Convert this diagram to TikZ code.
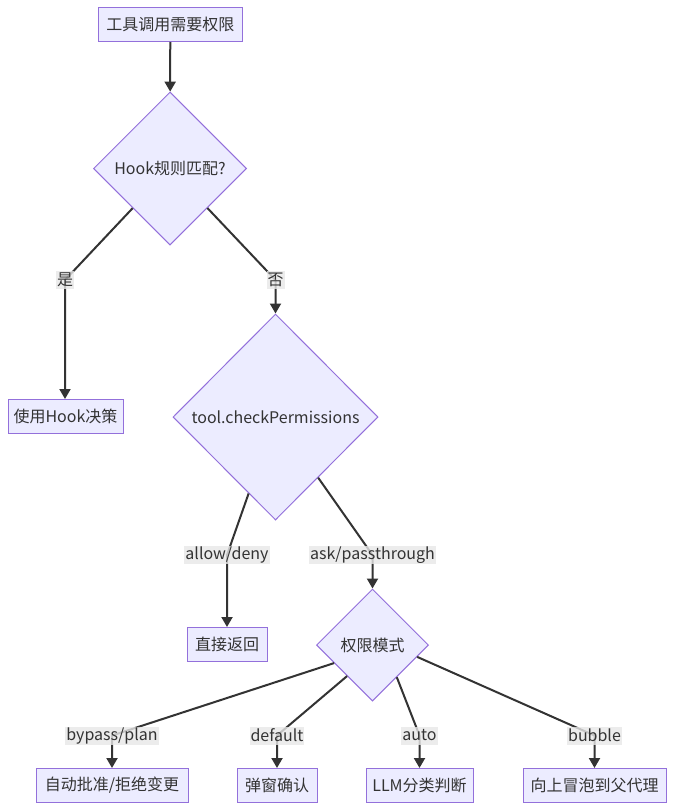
\documentclass[tikz,border=0pt]{standalone}
\usepackage{fontspec}
\setmainfont{Noto Sans CJK SC}
\usetikzlibrary{shapes.geometric,arrows.meta,calc}
\definecolor{nfill}{HTML}{ECECFF}
\definecolor{nstroke}{HTML}{9370DB}
\definecolor{ecol}{HTML}{333333}
\definecolor{lbg}{HTML}{E8E8E8}
\tikzset{
  txt/.style={text=ecol, font=\fontsize{16}{19}\selectfont},
  box/.style={txt, draw=nstroke, fill=nfill, line width=1pt, minimum height=34pt, inner sep=0pt},
  dia/.style={txt, diamond, aspect=1, draw=nstroke, fill=nfill, line width=1pt, inner sep=0pt},
  edge/.style={draw=ecol, line width=2pt, -{Triangle[length=10pt,width=11pt]}},
  lbl/.style={txt, fill=lbg, fill opacity=0.8, text opacity=1, inner xsep=1pt, inner ysep=0pt, minimum height=18pt}
}
\begin{document}
\begin{tikzpicture}[x=1pt,y=-1pt]
\useasboundingbox (0,0) rectangle (674,811);
\fill[white] (0,0) rectangle (674,811);

% nodes
\node[box, minimum width=144pt] (req) at (170.3,24.5) {工具调用需要权限};
\node[dia, minimum width=153pt, minimum height=153pt] (hook) at (170,168.5) {Hook规则匹配?};
\node[box, minimum width=115pt] (usehook) at (65.5,416.5) {使用Hook决策};
\node[dia, minimum width=205pt, minimum height=206pt] (check) at (275.5,417) {tool.checkPermissions};
\node[box, minimum width=80pt] (ret) at (227,644.5) {直接返回};
\node[dia, minimum width=112pt, minimum height=112pt] (mode) at (372.5,645) {权限模式};
\node[box, minimum width=152pt] (autoapp) at (112,785.5) {自动批准/拒绝变更};
\node[box, minimum width=80pt] (popup) at (277,785.5) {弹窗确认};
\node[box, minimum width=107pt] (llm) at (419.5,785.5) {LLM分类判断};
\node[box, minimum width=143pt] (bubble) at (594.5,785.5) {向上冒泡到父代理};

% label anchor points
\coordinate (cyes) at (65,280);
\coordinate (cno) at (275.5,280);
\coordinate (callow) at (227,555);
\coordinate (cask) at (372.5,555);
\coordinate (cbyp) at (112,735.5);
\coordinate (cdef) at (277,735.5);
\coordinate (cauto) at (419.5,735.5);
\coordinate (cbub) at (594.5,735.5);

% edges
\draw[edge] (req) -- (hook);
\draw[edge] (hook) -- (cyes) -- (cyes |- usehook.north);
\draw[edge] (hook) -- (cno) -- (cno |- check.north);
\draw[edge] (check) -- (callow) -- (callow |- ret.north);
\draw[edge] (check) -- (cask) -- (cask |- mode.north);
\draw[edge] ($(mode.west)!0.32!(mode.south)$) -- (cbyp) -- (cbyp |- autoapp.north);
\draw[edge] ($(mode.west)!0.55!(mode.south)$) -- (cdef) -- (cdef |- popup.north);
\draw[edge] ($(mode.south)!0.43!(mode.east)$) -- (cauto) -- (cauto |- llm.north);
\draw[edge] ($(mode.south)!0.79!(mode.east)$) -- (cbub) -- (cbub |- bubble.north);

% edge labels
\node[lbl] (lyes) at (cyes) {是};
\node[lbl] (lno) at (cno) {否};
\node[lbl] (lallow) at (callow) {allow/deny};
\node[lbl] (lask) at (cask) {ask/passthrough};
\node[lbl] (lbyp) at (cbyp) {bypass/plan};
\node[lbl] (ldef) at (cdef) {default};
\node[lbl] (lauto) at (cauto) {auto};
\node[lbl] (lbub) at (cbub) {bubble};
\end{tikzpicture}
\end{document}
